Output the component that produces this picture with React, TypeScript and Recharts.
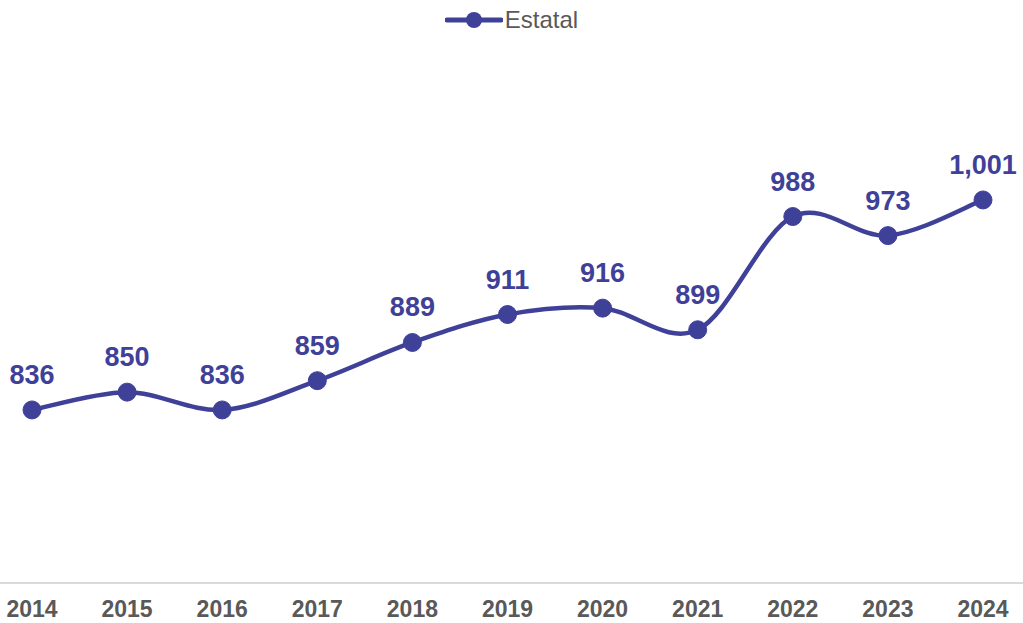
import React from 'react';
import { LineChart, Line, XAxis, YAxis, LabelList } from 'recharts';

const years = ['2014', '2015', '2016', '2017', '2018', '2019', '2020', '2021', '2022', '2023', '2024'];
const estatal = [836, 850, 836, 859, 889, 911, 916, 899, 988, 973, 1001];

const data = years.map((year, i) => ({ year, estatal: estatal[i] }));

const BLUE = '#3f4199';
const GRAY = '#595959';
const FONT = '"Liberation Sans", Arial, sans-serif';

// Excel-style smoothed line (Catmull-Rom segments as cubic beziers)
function excelCurve(context: any) {
  let pts: number[][] = [];
  return {
    areaStart() {},
    areaEnd() {},
    lineStart() {
      pts = [];
    },
    lineEnd() {
      if (!pts.length) return;
      context.moveTo(pts[0][0], pts[0][1]);
      for (let i = 0; i < pts.length - 1; i++) {
        const p0 = pts[i - 1] || pts[i];
        const p1 = pts[i];
        const p2 = pts[i + 1];
        const p3 = pts[i + 2] || p2;
        context.bezierCurveTo(
          p1[0] + (p2[0] - p0[0]) / 6,
          p1[1] + (p2[1] - p0[1]) / 6,
          p2[0] - (p3[0] - p1[0]) / 6,
          p2[1] - (p3[1] - p1[1]) / 6,
          p2[0],
          p2[1]
        );
      }
    },
    point(x: number, y: number) {
      pts.push([+x, +y]);
    },
  };
}

export default function App() {
  return (
    <div style={{ position: 'absolute', left: 0, top: 0, width: 1023, height: 623, background: '#fff' }}>
      <div
        style={{
          position: 'absolute',
          top: 5,
          left: 0,
          width: 1023,
          display: 'flex',
          justifyContent: 'center',
          alignItems: 'center',
          fontFamily: FONT,
          fontSize: 24,
          color: GRAY,
        }}
      >
        <svg width={58} height={30} style={{ marginRight: 2 }}>
          <line x1={2} y1={15} x2={56} y2={15} stroke={BLUE} strokeWidth={5} strokeLinecap="round" />
          <circle cx={29} cy={15} r={8} fill={BLUE} />
        </svg>
        <span>Estatal</span>
      </div>
      <LineChart width={1023} height={623} data={data} margin={{ top: 74, right: 0, left: 0, bottom: 0 }}>
        <XAxis
          dataKey="year"
          height={40}
          padding={{ left: 32, right: 40 }}
          axisLine={{ stroke: '#d9d9d9', strokeWidth: 2 }}
          tickLine={false}
          tickMargin={12}
          tick={{ fill: GRAY, fontSize: 23, fontWeight: 'bold', fontFamily: FONT }}
          interval={0}
        />
        <YAxis hide domain={[700, 1100]} />
        <Line
          dataKey="estatal"
          type={excelCurve as any}
          stroke={BLUE}
          strokeWidth={4.5}
          dot={{ r: 9, fill: BLUE, stroke: BLUE, strokeWidth: 1 }}
          activeDot={false}
          isAnimationActive={false}
        >
          <LabelList
            dataKey="estatal"
            position="top"
            offset={26}
            formatter={(v: any) => Number(v).toLocaleString('en-US')}
            style={{ fill: BLUE, fontSize: 27, fontWeight: 'bold', fontFamily: FONT }}
          />
        </Line>
      </LineChart>
    </div>
  );
}
